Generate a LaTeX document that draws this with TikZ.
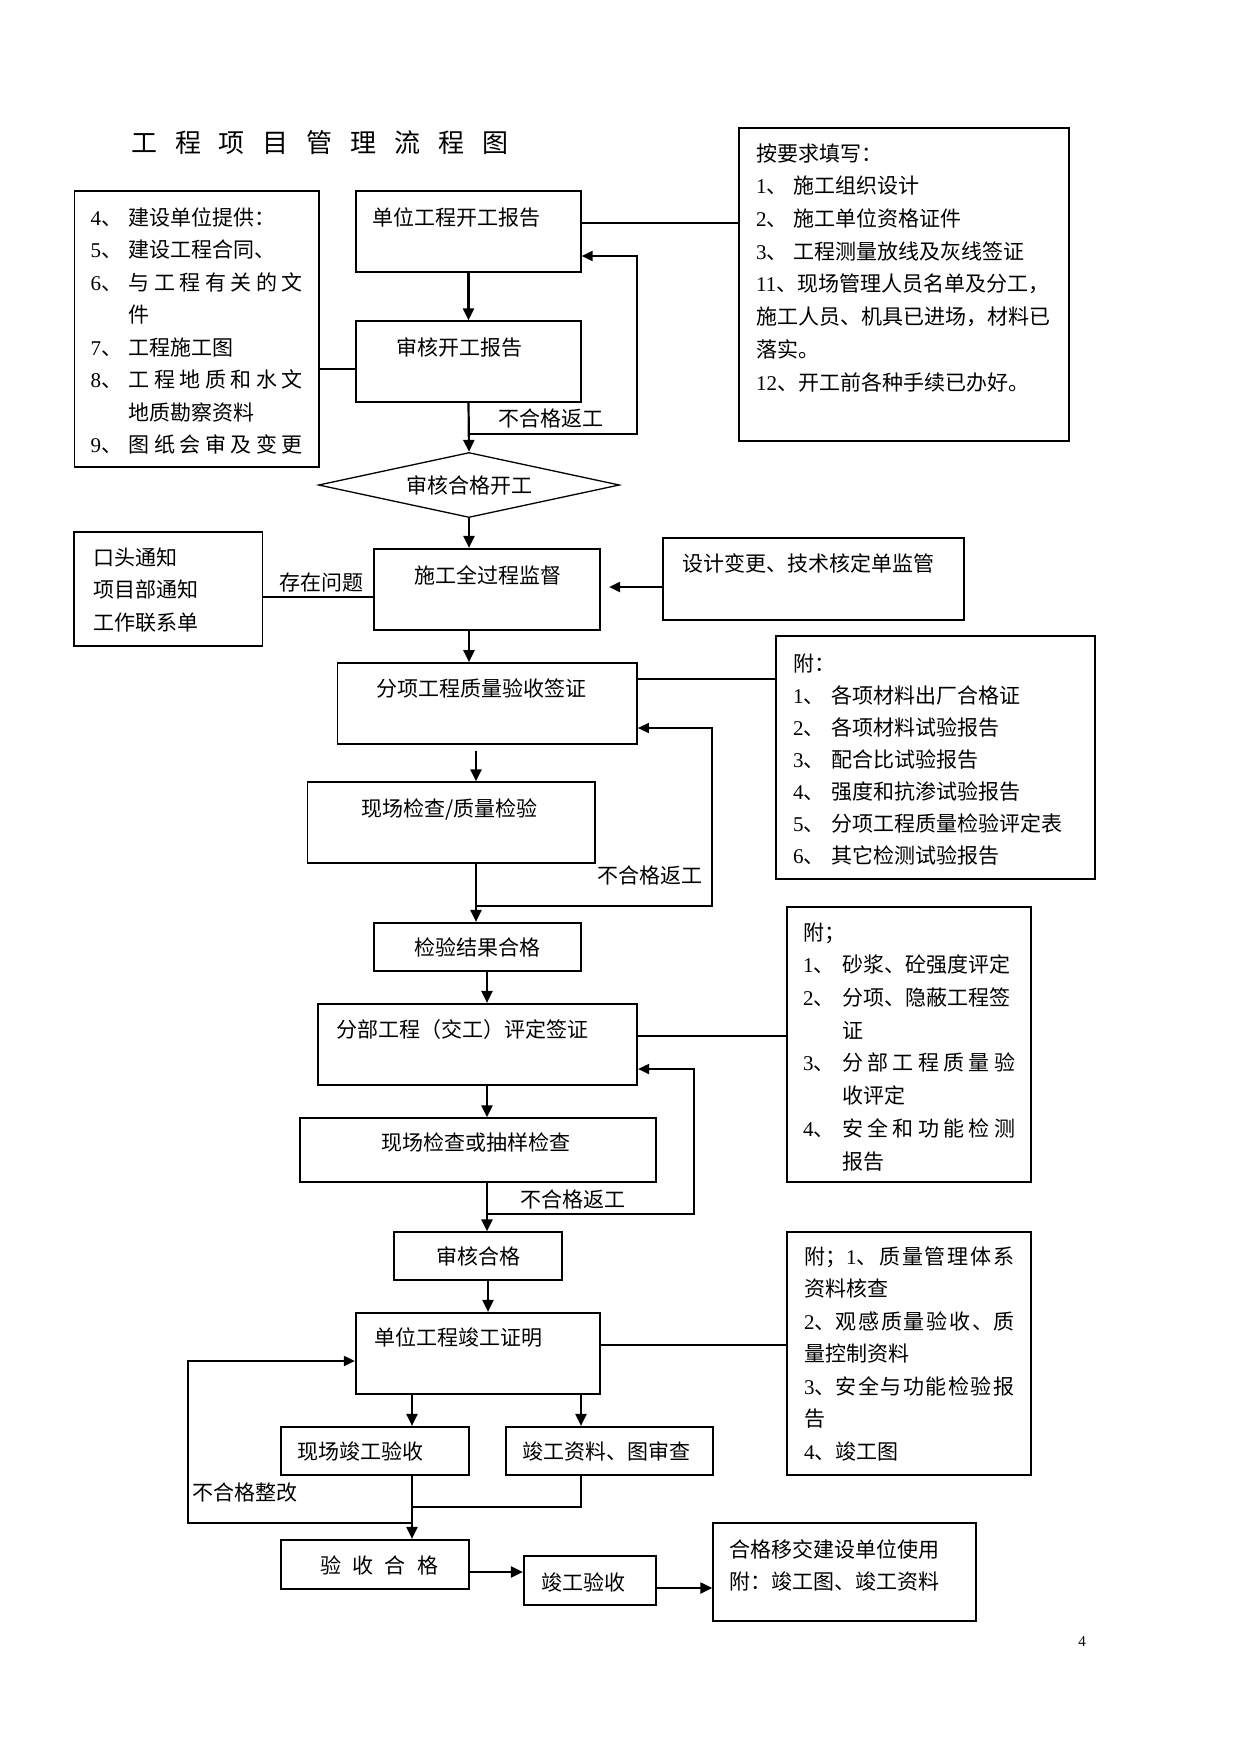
\documentclass[tikz,border=0pt]{standalone}
\usepackage{fontspec}
\setmainfont{Liberation Serif}
\newfontfamily\cjk{Noto Sans CJK SC}
\usetikzlibrary{arrows.meta,shapes.geometric,fit}
\newcommand\nm[1]{{\rmfamily #1}}
\newcommand\numcol[2]{\makebox[#1][l]{#2}}
\newcommand\gp{\hspace{0pt plus 1fil}}
\begin{document}
\begin{tikzpicture}[x=1pt,y=-1pt,
  thinbox/.style={draw, line width=1.3pt, inner sep=0pt},
  medbox/.style={draw, line width=1.7pt, inner sep=0pt},
  thickbox/.style={draw, line width=2.2pt, inner sep=0pt},
  txt/.style={inner sep=0pt, anchor=base west, align=left, font=\cjk\fontsize{21}{32.5}\selectfont},
  ctxt/.style={inner sep=0pt, font=\cjk\fontsize{21}{25}\selectfont},
  arr/.style={line width=2.2pt, -{Triangle[length=12pt,width=11pt]}},
  farr/.style={line width=2pt, -{Triangle[length=11pt,width=10pt]}},
  ln/.style={line width=2pt},
  lnthin/.style={line width=1.2pt},
]
\useasboundingbox (0,0) rectangle (1241,1754);

% title
\node[inner sep=0pt, anchor=base west, font=\cjk\fontsize{26}{30}\selectfont] (title) at (131,152)
  {\makebox[377pt][s]{工\gp 程\gp 项\gp 目\gp 管\gp 理\gp 流\gp 程\gp 图}};

% boxes
\node[thinbox, fit={(74.5,191) (319,467)}] (L1) {};
\node[thinbox, fit={(356,191) (581,272)}] (A) {};
\node[thinbox, fit={(356,321) (581,402)}] (B) {};
\node[thickbox, fit={(739,128) (1069,441)}] (R1) {};
\node[draw, line width=1.3pt, diamond, aspect=4.63, inner sep=0pt, minimum width=301pt, minimum height=65pt,
      font=\cjk\fontsize{21}{25}\selectfont] (D) at (469,485) {审核合格开工};
\node[thinbox, fit={(74,532) (262.5,646)}] (K) {};
\node[thickbox, fit={(374,549) (600,630)}] (C) {};
\node[thickbox, fit={(663,538) (964,620)}] (S) {};
\node[medbox, fit={(337.5,663) (637,744)}] (F) {};
\node[thickbox, fit={(776,636) (1095,879)}] (P1) {};
\node[thinbox, fit={(307.5,782) (595,863)}] (G) {};
\node[thickbox, fit={(374,923) (581,971)}] (H) {};
\node[thickbox, fit={(318,1004) (637,1085)}] (J) {};
\node[medbox, fit={(787,907) (1031,1182)}] (P2) {};
\node[thinbox, fit={(300,1118) (656,1182)}] (M) {};
\node[thinbox, fit={(394,1232) (562,1280)}] (N) {};
\node[thickbox, fit={(356,1313) (600,1394)}] (U) {};
\node[thickbox, fit={(787,1232) (1031,1475)}] (P3) {};
\node[thickbox, fit={(281,1427) (469,1475)}] (V) {};
\node[thickbox, fit={(506,1427) (713,1475)}] (W) {};
\node[thickbox, fit={(281,1540) (469,1589)}] (X) {};
\node[thickbox, fit={(524,1556) (656,1605)}] (Y) {};
\node[thinbox, fit={(713,1523) (976,1621)}] (Z) {};

% texts (multi-line nodes are anchored at the baseline of their last line)
\node[txt] (L1t) at (90.5,452.5) {%
\numcol{38pt}{\nm{4}、}建设单位提供：\\
\numcol{38pt}{\nm{5}、}建设工程合同、\\
\numcol{38pt}{\nm{6}、}\makebox[174pt][s]{与\gp 工\gp 程\gp 有\gp 关\gp 的\gp 文}\\
\numcol{38pt}{}件\\
\numcol{38pt}{\nm{7}、}工程施工图\\
\numcol{38pt}{\nm{8}、}\makebox[174pt][s]{工\gp 程\gp 地\gp 质\gp 和\gp 水\gp 文}\\
\numcol{38pt}{}地质勘察资料\\
\numcol{38pt}{\nm{9}、}\makebox[174pt][s]{图\gp 纸\gp 会\gp 审\gp 及\gp 变\gp 更}};
\node[txt] (At) at (372,225) {单位工程开工报告};
\node[txt] (Bt) at (396,355) {审核开工报告};
\node[txt, font=\cjk\fontsize{21}{32.7}\selectfont] (R1t) at (756,390) {%
按要求填写：\\
\numcol{37pt}{\nm{1}、}施工组织设计\\
\numcol{37pt}{\nm{2}、}施工单位资格证件\\
\numcol{37pt}{\nm{3}、}工程测量放线及灰线签证\\
\nm{11}、现场管理人员名单及分工，\\
施工人员、机具已进场，材料已\\
落实。\\
\nm{12}、开工前各种手续已办好。};
\node[txt] (lab1) at (498,426) {不合格返工};
\node[txt] (Kt) at (93,630) {口头通知\\项目部通知\\工作联系单};
\node[txt] (lab2) at (279,590) {存在问题};
\node[txt] (Ct) at (414,583) {施工全过程监督};
\node[txt] (St) at (682,571) {设计变更、技术核定单监管};
\node[txt] (Ft) at (376,696) {分项工程质量验收签证};
\node[txt, font=\cjk\fontsize{21}{32}\selectfont] (P1t) at (793,863) {%
附：\\
\numcol{38pt}{\nm{1}、}各项材料出厂合格证\\
\numcol{38pt}{\nm{2}、}各项材料试验报告\\
\numcol{38pt}{\nm{3}、}配合比试验报告\\
\numcol{38pt}{\nm{4}、}强度和抗渗试验报告\\
\numcol{38pt}{\nm{5}、}分项工程质量检验评定表\\
\numcol{38pt}{\nm{6}、}其它检测试验报告};
\node[txt] (Gt) at (361,816) {现场检查/质量检验};
\node[txt] (lab3) at (597,883) {不合格返工};
\node[ctxt] (Ht) at (H.center) {检验结果合格};
\node[txt] (Jt) at (336,1037) {分部工程（交工）评定签证};
\node[txt, font=\cjk\fontsize{21}{32.7}\selectfont] (P2t) at (803,1169) {%
附；\\
\numcol{39pt}{\nm{1}、}砂浆、砼强度评定\\
\numcol{39pt}{\nm{2}、}分项、隐蔽工程签\\
\numcol{39pt}{}证\\
\numcol{39pt}{\nm{3}、}\makebox[173pt][s]{分\gp 部\gp 工\gp 程\gp 质\gp 量\gp 验}\\
\numcol{39pt}{}收评定\\
\numcol{39pt}{\nm{4}、}\makebox[173pt][s]{安\gp 全\gp 和\gp 功\gp 能\gp 检\gp 测}\\
\numcol{39pt}{}报告};
\node[txt] (Mt) at (381,1150) {现场检查或抽样检查};
\node[txt] (lab4) at (520,1207) {不合格返工};
\node[ctxt] (Nt) at (N.center) {审核合格};
\node[txt] (Ut) at (374,1345) {单位工程竣工证明};
\node[txt] (P3t) at (804,1459) {%
\makebox[210pt][s]{附；\nm{1}、\gp 质\gp 量\gp 管\gp 理\gp 体\gp 系}\\
资料核查\\
\makebox[210pt][s]{\nm{2}、观\gp 感\gp 质\gp 量\gp 验\gp 收\gp 、质}\\
量控制资料\\
\makebox[210pt][s]{\nm{3}、安\gp 全\gp 与\gp 功\gp 能\gp 检\gp 验\gp 报}\\
告\\
\nm{4}、竣工图};
\node[txt] (Vt) at (297,1459) {现场竣工验收};
\node[txt] (Wt) at (522,1459) {竣工资料、图审查};
\node[txt] (lab5) at (192,1500) {不合格整改};
\node[txt] (Xt) at (320,1573) {\makebox[118pt][s]{验\gp 收\gp 合\gp 格}};
\node[txt] (Yt) at (541,1590) {竣工验收};
\node[txt, font=\cjk\fontsize{21}{32}\selectfont] (Zt) at (729,1589) {合格移交建设单位使用\\附：竣工图、竣工资料};
\node[inner sep=0pt, font=\rmfamily\fontsize{15}{18}\selectfont] (pg) at (1082,1642) {4};

% junction coordinates
\coordinate (j1) at (468.5,434);
\coordinate (j2) at (476,906);
\coordinate (j3) at (487,1214);
\coordinate (m) at (412,1507);
\coordinate (j4) at (412,1523);

% connectors
\draw[arr] (A.south) -- (B.north);
\draw[ln] (A.east |- 0,223) -- (R1.west |- 0,223);
\draw[farr] (j1) -- (637,434) -- (637,256) -- (A.east |- 0,256);
\draw[ln] (L1.east |- 0,369) -- (B.west |- 0,369);
\draw[arr] (B.south) -- (D.north);
\draw[arr] (D.south) -- (D.south |- C.north);
\draw[lnthin] (K.east |- 0,597) -- (C.west |- 0,597);
\draw[farr, shorten >=8pt] (S.west |- 0,587) -- (C.east |- 0,587);
\draw[arr] (C.south -| D.south) -- (F.north -| D.south);
\draw[ln] (F.east |- 0,679) -- (P1.west |- 0,679);
\draw[arr, shorten <=6pt] (F.south -| 476,0) -- (G.north -| 476,0);
\draw[arr] (G.south -| 476,0) -- (H.north -| 476,0);
\draw[line width=1.5pt, -{Triangle[length=11pt,width=10pt]}] (j2) -- (712,906) -- (712,728) -- (F.east |- 0,728);
\draw[arr] (H.south -| 487,0) -- (J.north -| 487,0);
\draw[lnthin] (J.east |- 0,1036) -- (P2.west |- 0,1036);
\draw[arr] (J.south -| 487,0) -- (M.north -| 487,0);
\draw[farr] (j3) -- (694,1214) -- (694,1069) -- (J.east |- 0,1069);
\draw[arr] (M.south -| 487,0) -- (N.north -| 487,0);
\draw[arr] (N.south -| 488,0) -- (U.north -| 488,0);
\draw[ln] (U.east |- 0,1345) -- (P3.west |- 0,1345);
\draw[arr] (U.south -| 412,0) -- (V.north -| 412,0);
\draw[arr] (U.south -| 581,0) -- (W.north -| 581,0);
\draw[lnthin] (V.south -| 412,0) -- (m) -- (581,1507) -- (W.south -| 581,0);
\draw[arr] (m) -- (X.north -| 412,0);
\draw[farr] (j4) -- (187.5,1523) -- (187.5,1361) -- (U.west |- 0,1361);
\draw[arr] (X.east |- 0,1572) -- (Y.west |- 0,1572);
\draw[arr] (Y.east |- 0,1588) -- (Z.west |- 0,1588);
\end{tikzpicture}
\end{document}
